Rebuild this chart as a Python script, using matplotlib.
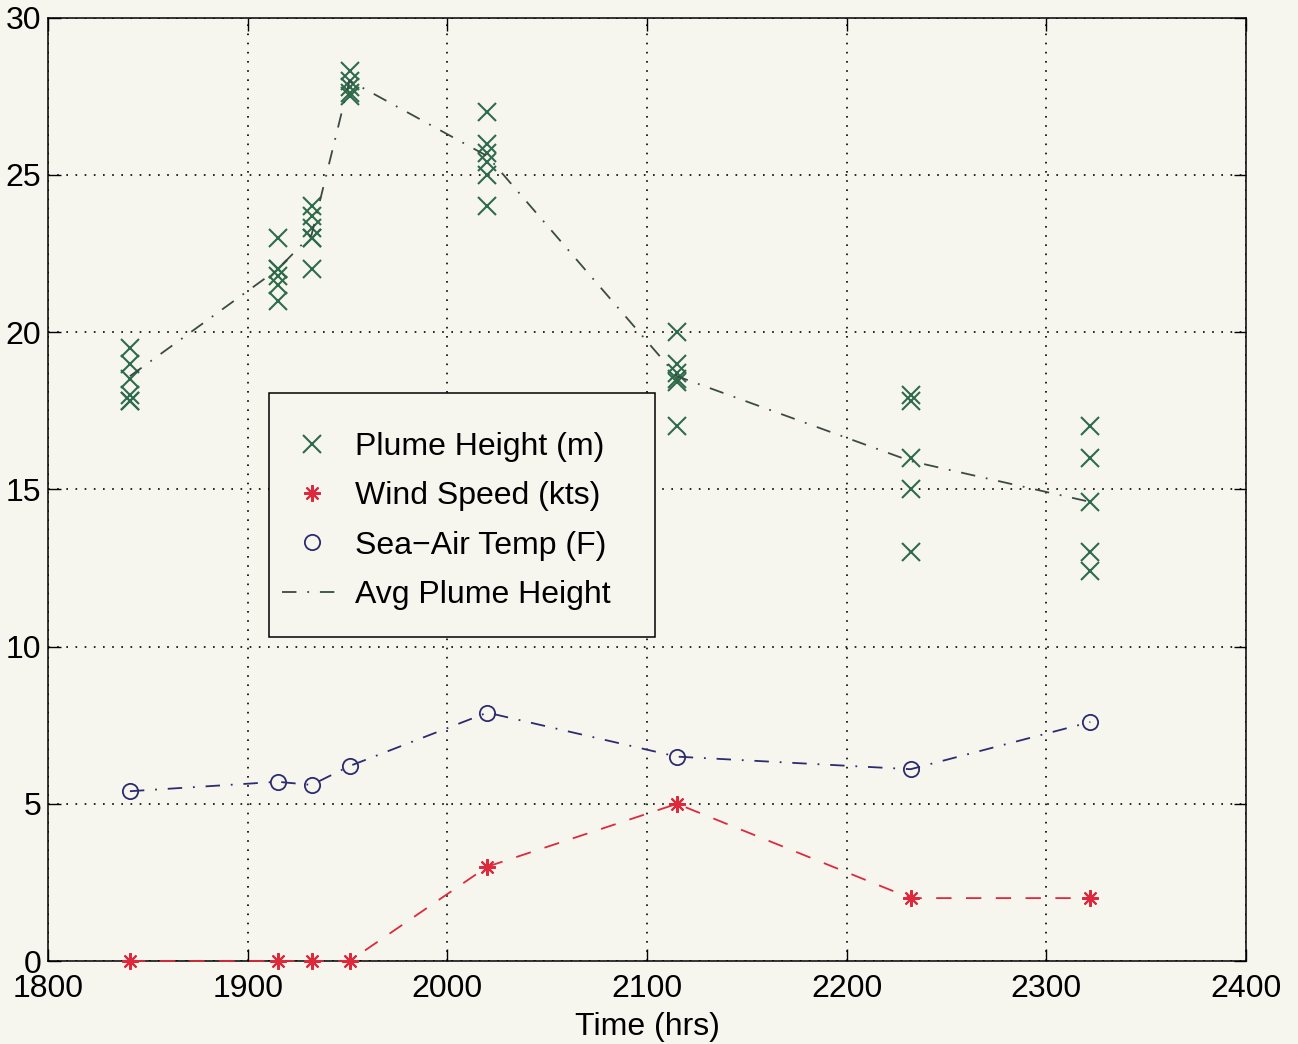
#!/usr/bin/env python3
"""
Plume height, wind speed and sea-air temperature against time of day
"""
import matplotlib
matplotlib.use("Agg")
import matplotlib.pyplot as plt
from matplotlib.lines import Line2D
from matplotlib.patches import Rectangle

# observation times (hrs)
times = [1841, 1915, 1932, 1951, 2020, 2115, 2232, 2322]

# individual plume height readings (m) at each time
plume_heights = [
    [19.5, 19.0, 18.5, 18.0, 17.8, 17.8],
    [23.0, 22.0, 22.0, 21.8, 21.5, 21.0],
    [24.0, 23.7, 23.3, 23.0, 23.0, 22.0],
    [28.3, 28.0, 27.8, 27.6, 27.5],
    [27.0, 26.0, 25.7, 25.4, 25.0, 24.0],
    [20.0, 19.0, 18.7, 18.5, 18.4, 17.0],
    [18.0, 17.8, 16.0, 15.0, 13.0],
    [17.0, 16.0, 14.6, 13.0, 12.4],
]
avg_plume = [18.6, 22.0, 23.1, 28.0, 25.6, 18.6, 15.9, 14.6]
wind_speed = [0, 0, 0, 0, 3, 5, 2, 2]
sea_air_temp = [5.4, 5.7, 5.6, 6.2, 7.9, 6.5, 6.1, 7.6]

x_ticks = [1800, 1900, 2000, 2100, 2200, 2300, 2400]
y_ticks = [0, 5, 10, 15, 20, 25, 30]
labels = ['Plume Height (m)', 'Wind Speed (kts)', 'Sea\u2212Air Temp (F)',
          'Avg Plume Height']

plt.rcParams['font.family'] = ['Liberation Sans', 'DejaVu Sans']

bg = '#f6f6ef'
fig = plt.figure(figsize=(12.98, 10.44), dpi=100, facecolor=bg)
ax = fig.add_axes([0.037, 0.0795, 0.923, 0.9035], facecolor=bg)

green = '#2f6b4b'
navy = '#2b2b6e'
red = '#dc2a3c'
gray = '#3b4a44'
dashdot = (0, (8, 6, 1, 6))
dashed = (0, (8.5, 8))

# scatter every individual reading
px = [t for t, hs in zip(times, plume_heights) for _ in hs]
py = [h for hs in plume_heights for h in hs]
ax.plot(px, py, linestyle='none', marker='x', markersize=12.5,
        markeredgewidth=1.5, color=green)

ax.plot(times, wind_speed, linestyle=dashed, linewidth=1.3, color=red,
        marker=(8, 2, 0), markersize=12, markeredgewidth=1.5, clip_on=False,
        zorder=3)
ax.plot(times, sea_air_temp, linestyle=dashdot, linewidth=1.3,
        color=navy, marker='o', markersize=11, markerfacecolor='none',
        markeredgewidth=1.3)
ax.plot(times, avg_plume, linestyle=dashdot, linewidth=1.3, color=gray)

ax.set_xlim(1800, 2400)
ax.set_ylim(0, 30)
ax.set_xticks(x_ticks)
ax.set_yticks(y_ticks)
ax.tick_params(axis='both', direction='in', length=9, width=1, labelsize=23,
               top=True, right=True)
ax.tick_params(axis='x', pad=9)
ax.tick_params(axis='y', pad=5)
ax.grid(True, linestyle=(0, (1, 4.5)), color='black', linewidth=1.2)
for s in ax.spines.values():
    s.set_linewidth(1.1)
ax.set_xlabel('Time (hrs)', fontsize=23, labelpad=6)

# legend: markers only for the first three, the line for the average
handles = [
    Line2D([], [], linestyle='none', marker='x', markersize=12.5,
           markeredgewidth=1.5, color=green),
    Line2D([], [], linestyle='none', marker=(8, 2, 0), markersize=12,
           markeredgewidth=1.5, color=red),
    Line2D([], [], linestyle='none', marker='o', markersize=11,
           markerfacecolor='none', markeredgewidth=1.3, color=navy),
    Line2D([], [], linestyle=dashdot, linewidth=1.3, color=gray),
]
box = Rectangle((0.1845, 0.3436), 0.3222, 0.2587, transform=ax.transAxes,
                facecolor=bg, edgecolor='black', linewidth=1.1, zorder=4)
ax.add_patch(box)
leg = ax.legend(handles, labels, loc='upper left',
                bbox_to_anchor=(0.1953, 0.5606), fontsize=23, frameon=False,
                borderpad=0, labelspacing=0.6, handlelength=1.9,
                handletextpad=0.4, borderaxespad=0)
leg.set_zorder(5)

fig.savefig('out.png', dpi=100, facecolor=bg)
